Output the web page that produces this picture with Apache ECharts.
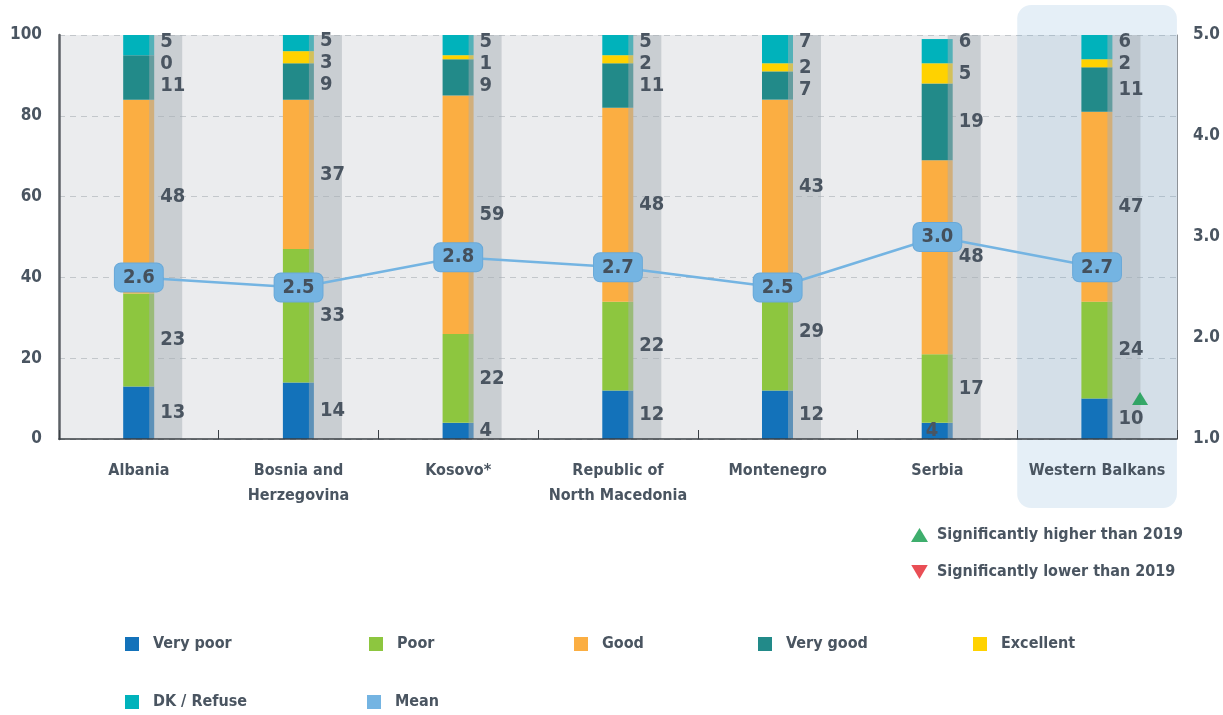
<!DOCTYPE html>
<html><head><meta charset="utf-8">
<script src="https://cdn.jsdelivr.net/npm/echarts@6/dist/echarts.min.js"></script>
<style>html,body{margin:0;padding:0;background:#fff}#c{width:1223px;height:715px}</style>
</head><body><div id="c"></div>
<script>
// ---- data ----
const categories = ['Albania', 'Bosnia and\nHerzegovina', 'Kosovo*', 'Republic of\nNorth Macedonia', 'Montenegro', 'Serbia', 'Western Balkans'];
const veryPoor  = [13, 14, 4, 12, 12, 4, 10];
const poor      = [23, 33, 22, 22, 29, 17, 24];
const good      = [48, 37, 59, 48, 43, 48, 47];
const veryGood  = [11, 9, 9, 11, 7, 19, 11];
const excellent = [0, 3, 1, 2, 2, 5, 2];
const dkRefuse  = [5, 5, 5, 5, 7, 6, 6];
const mean      = [2.6, 2.5, 2.8, 2.7, 2.5, 3.0, 2.7];
const sigHigher = [null, null, null, null, null, null, 10]; // marker at very-poor segment
const leftTicks = [0, 20, 40, 60, 80, 100];
const rightTicks = [1.0, 2.0, 3.0, 4.0, 5.0];

// ---- style ----
const FONT = '"DejaVu Sans Condensed","Liberation Sans Narrow","Open Sans",sans-serif';
const TXT = '#4a5561';
const names = ['Very poor', 'Poor', 'Good', 'Very good', 'Excellent', 'DK / Refuse'];
const colors = ['#1372ba', '#8dc63f', '#fbae42', '#228a89', '#ffd200', '#00b2bb'];
const segs = [veryPoor, poor, good, veryGood, excellent, dkRefuse];
const MEANC = '#74b4e2';

const GT = 35, GB = 276, GL = 59, GR = 43, H = 715;
const GH = H - GT - GB;
const yPx = v => GT + (100 - v) * GH / 100;

// label positions: natural segment centres, pushed apart top-down when overlapping
const labelY = segs.map(() => []);
categories.forEach((c, i) => {
  let base = 0; const nat = [];
  segs.forEach((s, k) => { nat[k] = yPx(Math.min(base + s[i] / 2, 100)); base += s[i]; });
  let prev = -Infinity;
  for (let k = segs.length - 1; k >= 0; k--) {
    let y = Math.max(nat[k], prev + 22);
    if (k === segs.length - 1) y = Math.min(y, GT + 7);
    labelY[k][i] = y; prev = y;
  }
});

const BW = 31, BGW = 33, GAP = '-16.1%';

const series = [];
series.push({
  name: '_pad', type: 'bar', stack: 'pad', barWidth: BGW, barGap: GAP, silent: true,
  data: categories.map(() => 0), itemStyle: { color: 'rgba(0,0,0,0)' }
});
segs.forEach((s, k) => {
  series.push({
    name: names[k], type: 'bar', stack: 'a', barWidth: BW, barGap: GAP, clip: true, z: 2,
    itemStyle: { color: colors[k] },
    data: s.map((v, i) => (k === 0 && categories[i] === 'Serbia')
      ? { value: v, label: { position: 'insideLeft', distance: 4 } } : v),
    label: {
      show: true, position: 'right', distance: 6, formatter: '{c}',
      fontFamily: FONT, fontWeight: 'bold', fontSize: 20, color: TXT
    },
    labelLayout: (p) => ({ y: labelY[k][p.dataIndex] - p.labelRect.height / 2 })
  });
});
series.push({
  name: '_bg', type: 'bar', stack: 'bg', barWidth: BGW, barGap: GAP, silent: true, z: 2,
  data: categories.map(() => 100), itemStyle: { color: 'rgba(168,176,181,0.5)' }
});
series.push({
  name: 'Mean', type: 'line', yAxisIndex: 1, data: mean, z: 5,
  symbol: 'circle', symbolSize: 1,
  lineStyle: { color: MEANC, width: 2.5 }, itemStyle: { color: MEANC },
  label: {
    show: true, position: 'inside', formatter: p => p.value.toFixed(1),
    backgroundColor: MEANC, borderRadius: 6, padding: [5, 8, 3, 8],
    borderColor: '#6aa9d8', borderWidth: 1,
    fontFamily: FONT, fontWeight: 'bold', fontSize: 20, color: '#44505c'
  }
});
series.push({
  name: 'Significantly higher than 2019', type: 'scatter', symbol: 'triangle', symbolSize: [16, 13],
  symbolOffset: [43, 0], z: 6, itemStyle: { color: '#0e9a48' },
  data: sigHigher.map((v, i) => v == null ? null : [categories[i], v]).filter(d => d)
});
series.push({
  name: 'Significantly lower than 2019', type: 'scatter', symbol: 'path://M0,0L10,0L5,8.5Z', symbolSize: [16, 13],
  itemStyle: { color: '#e3222b' }, data: []
});

const legTxt = { fontFamily: FONT, fontWeight: 'bold', fontSize: 16, color: TXT, padding: [0, 0, 0, 9] };
const legendPos = [[125, 636], [369, 636], [574, 636], [758, 636], [973, 636], [125, 694], [367, 694]];
const legendNames = names.concat(['Mean']);
const legends = legendNames.map((n, i) => ({
  data: [n], left: legendPos[i][0], top: legendPos[i][1], padding: 0,
  icon: 'rect', itemWidth: 14, itemHeight: 14, textStyle: legTxt, selectedMode: false
}));
legends.push({
  data: ['Significantly higher than 2019', 'Significantly lower than 2019'],
  orient: 'vertical', left: 911, top: 527, padding: 0, itemGap: 21,
  itemWidth: 17, itemHeight: 14, textStyle: Object.assign({}, legTxt, { padding: [0, 0, 0, 4] }), selectedMode: false
});

const chart = echarts.init(document.getElementById('c'), null, { renderer: 'canvas' });
chart.setOption({
  animation: false,
  backgroundColor: '#ffffff',
  textStyle: { fontFamily: FONT },
  legend: legends,
  grid: { left: GL, right: GR, top: GT, bottom: GB, show: true, backgroundColor: '#ebecee', borderWidth: 0 },
  xAxis: {
    type: 'category', data: categories, z: 3,
    axisLine: { lineStyle: { color: '#3a3f44', width: 1.5 } },
    axisTick: { show: true, inside: true, length: 9, lineStyle: { color: '#3a3f44' } },
    axisLabel: { interval: 0, margin: 19, fontFamily: FONT, fontWeight: 'bold', fontSize: 16, color: TXT, lineHeight: 25 }
  },
  yAxis: [{
    type: 'value', min: leftTicks[0], max: leftTicks[leftTicks.length - 1], interval: leftTicks[1] - leftTicks[0],
    axisLine: { show: true, lineStyle: { color: '#5c6166', width: 2.5 } },
    axisTick: { show: false },
    axisLabel: { margin: 17, fontFamily: FONT, fontWeight: 'bold', fontSize: 17, color: TXT },
    splitLine: { lineStyle: { color: '#c3c7cb', type: [6, 5], width: 1 } }
  }, {
    type: 'value', position: 'right', min: rightTicks[0], max: rightTicks[rightTicks.length - 1],
    interval: rightTicks[1] - rightTicks[0],
    axisLine: { show: true, lineStyle: { color: '#8d9297', width: 1 } },
    axisTick: { show: false }, splitLine: { show: false },
    axisLabel: { margin: 16, formatter: v => v.toFixed(1), fontFamily: FONT, fontWeight: 'bold', fontSize: 17, color: TXT }
  }],
  series: series
});

// highlight band behind the Western Balkans group
const iWB = categories.indexOf('Western Balkans');
const cx = chart.convertToPixel({ xAxisIndex: 0 }, categories[iWB]);
const bw = cx - chart.convertToPixel({ xAxisIndex: 0 }, categories[iWB - 1]);
chart.setOption({
  graphic: [{
    type: 'rect', z: 1, silent: true,
    shape: { x: cx - bw / 2, y: 5, width: bw, height: 503, r: 14 },
    style: { fill: 'rgba(95,155,205,0.16)' }
  }]
});
</script>
</body></html>
